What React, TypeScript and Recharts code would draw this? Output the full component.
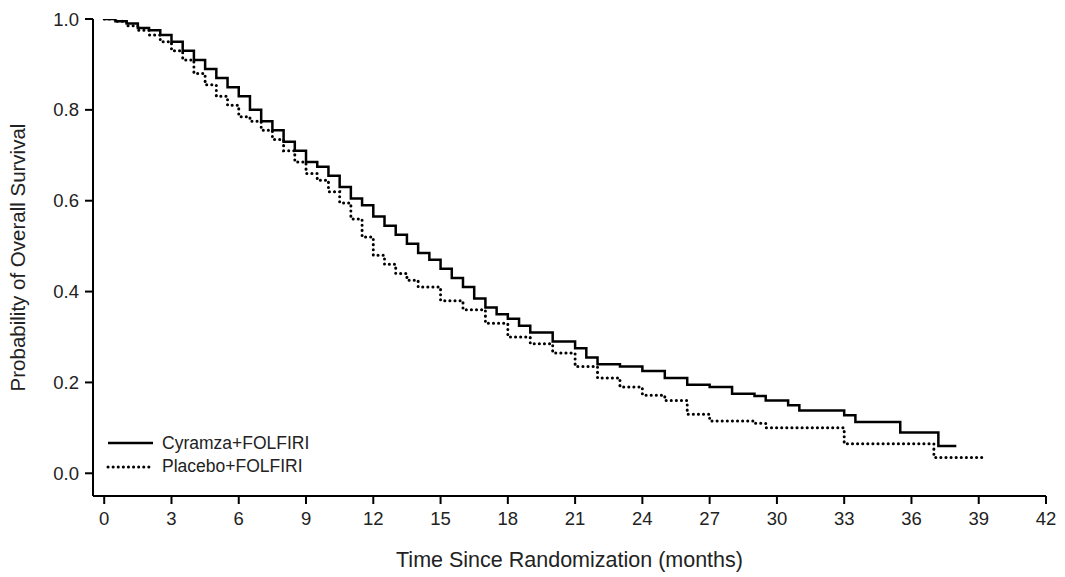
import { LineChart, Line, XAxis, YAxis, Label } from "recharts";

const xTicks = [0, 3, 6, 9, 12, 15, 18, 21, 24, 27, 30, 33, 36, 39, 42];
const yTicks = [0, 0.2, 0.4, 0.6, 0.8, 1.0];

const cyramzaMonths = [0, 0.5, 1, 1.5, 2, 2.5, 3, 3.5, 4, 4.5, 5, 5.5, 6, 6.5, 7, 7.5, 8, 8.5, 9, 9.5, 10, 10.5, 11, 11.5, 12, 12.5, 13, 13.5, 14, 14.5, 15, 15.5, 16, 16.5, 17, 17.5, 18, 18.5, 19, 20, 21, 21.5, 22, 23, 24, 25, 26, 27, 28, 29, 29.5, 30.5, 31, 33, 33.5, 35.5, 37.2, 38];
const cyramzaSurv = [1.0, 0.995, 0.99, 0.98, 0.975, 0.965, 0.95, 0.93, 0.91, 0.89, 0.87, 0.85, 0.83, 0.8, 0.775, 0.755, 0.73, 0.71, 0.685, 0.675, 0.655, 0.63, 0.605, 0.59, 0.565, 0.545, 0.525, 0.505, 0.485, 0.47, 0.45, 0.43, 0.41, 0.385, 0.365, 0.35, 0.34, 0.325, 0.31, 0.29, 0.275, 0.255, 0.24, 0.235, 0.225, 0.21, 0.195, 0.19, 0.175, 0.17, 0.16, 0.15, 0.138, 0.128, 0.113, 0.09, 0.06, 0.06];

const placeboMonths = [0, 0.5, 1, 1.5, 2, 2.5, 3, 3.5, 4, 4.5, 5, 5.5, 6, 6.5, 7, 7.5, 8, 8.5, 9, 9.5, 10, 10.5, 11, 11.5, 12, 12.5, 13, 13.5, 14, 15, 16, 17, 18, 19, 20, 21, 22, 23, 24, 25, 26, 27, 29, 29.5, 33, 37, 39.3];
const placeboSurv = [1.0, 0.995, 0.985, 0.975, 0.965, 0.95, 0.93, 0.91, 0.88, 0.855, 0.83, 0.81, 0.785, 0.775, 0.755, 0.735, 0.71, 0.685, 0.66, 0.645, 0.62, 0.595, 0.56, 0.52, 0.48, 0.46, 0.44, 0.425, 0.41, 0.38, 0.36, 0.33, 0.3, 0.285, 0.265, 0.235, 0.21, 0.19, 0.172, 0.16, 0.13, 0.115, 0.11, 0.1, 0.065, 0.035, 0.035];

const cyramza = cyramzaMonths.map((t, i) => ({ t, s: cyramzaSurv[i] }));
const placebo = placeboMonths.map((t, i) => ({ t, s: placeboSurv[i] }));

const font = "'Liberation Sans', Arial, sans-serif";
const tick = { fontSize: 18.5, fill: "#222", fontFamily: font };

export default function App() {
  document.body.style.margin = "0";
  return (
    <div style={{ position: "relative", width: 1065, height: 577, background: "#fff", fontFamily: font }}>
      <LineChart width={1065} height={577} margin={{ top: 19, right: 19, left: 0, bottom: 0 }}>
        <XAxis
          type="number"
          dataKey="t"
          domain={[-0.5, 42]}
          ticks={xTicks}
          tick={tick}
          stroke="#000"
          strokeWidth={2}
          tickSize={8}
          tickMargin={8}
          height={81}
          allowDataOverflow
        >
          <Label value="Time Since Randomization (months)" position="insideBottom" offset={10} style={{ fontSize: 21.5, fill: "#222", fontFamily: font }} />
        </XAxis>
        <YAxis
          type="number"
          dataKey="s"
          domain={[-0.05, 1.0]}
          ticks={yTicks}
          tickFormatter={(v) => Number(v).toFixed(1)}
          tick={tick}
          stroke="#000"
          strokeWidth={2}
          tickSize={8}
          tickMargin={6}
          width={93}
          allowDataOverflow
        >
          <Label value="Probability of Overall Survival" angle={-90} position="insideLeft" offset={18} style={{ fontSize: 20.5, fill: "#222", fontFamily: font, textAnchor: "middle" }} />
        </YAxis>
        <Line data={cyramza} dataKey="s" type="stepAfter" stroke="#000" strokeWidth={2.5} dot={false} isAnimationActive={false} />
        <Line data={placebo} dataKey="s" type="stepAfter" stroke="#000" strokeWidth={3} strokeDasharray="0.1 5" strokeLinecap="round" dot={false} isAnimationActive={false} />
      </LineChart>
      <svg style={{ position: "absolute", left: 0, top: 0 }} width={400} height={577}>
        <line x1={108} x2={153} y1={443} y2={443} stroke="#000" strokeWidth={2.5} />
        <line x1={108} x2={153} y1={467} y2={467} stroke="#000" strokeWidth={3} strokeDasharray="0.1 5" strokeLinecap="round" />
        <text x={162} y={449} fontSize={17.5} fill="#222" fontFamily={font}>Cyramza+FOLFIRI</text>
        <text x={162} y={472} fontSize={17.5} fill="#222" fontFamily={font}>Placebo+FOLFIRI</text>
      </svg>
    </div>
  );
}
